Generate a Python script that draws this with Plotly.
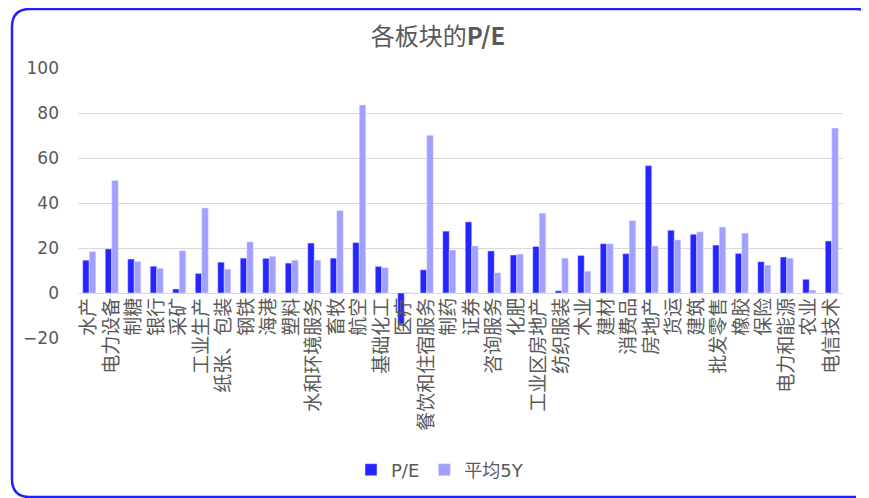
import plotly.graph_objects as go

# 板块名称
sectors = ['水产', '电力设备', '制糖', '银行', '采矿', '工业生产', '纸张、包装', '钢铁',
           '海港', '塑料', '水和环境服务', '畜牧', '航空', '基础化工', '医疗', '餐饮和住宿服务',
           '制药', '证券', '咨询服务', '化肥', '工业区房地产', '纺织服装', '木业', '建材',
           '消费品', '房地产', '货运', '建筑', '批发零售', '橡胶', '保险', '电力和能源',
           '农业', '电信技术']

# 当前 P/E
pe_now = [14.6, 19.6, 15.1, 11.9, 1.8, 8.7, 13.7, 15.5,
          15.4, 13.3, 22.2, 15.5, 22.4, 11.8, -13.8, 10.3,
          27.5, 31.6, 18.7, 16.9, 20.7, 1.0, 16.7, 21.9,
          17.5, 56.6, 27.9, 26.1, 21.3, 17.6, 13.9, 16.0,
          6.1, 23.1]

# 5年平均 P/E
pe_avg5y = [18.4, 50.0, 14.0, 11.0, 18.8, 37.8, 10.6, 22.7,
            16.3, 14.6, 14.6, 36.6, 83.6, 11.3, 0.3, 70.1,
            19.1, 20.9, 9.0, 17.3, 35.5, 15.5, 9.7, 21.9,
            32.2, 20.9, 23.6, 27.2, 29.3, 26.6, 12.4, 15.5,
            1.3, 73.3]

y_ticks = [-20, 0, 20, 40, 60, 80, 100]

# страница имеет отступ body 8px, поэтому всё считаем в координатах фигуры
W, H = 869, 498
L, R, T, B = 70, 34, 60, 168  # отступы области построения в пикселях
grey = '#595959'

fig = go.Figure()
fig.add_trace(go.Bar(x=sectors, y=pe_now, name='P/E', marker_color='#2525ff',
                     marker_line=dict(color='#e6e6ff', width=0.5)))
fig.add_trace(go.Bar(x=sectors, y=pe_avg5y, name='平均5Y', marker_color='#a0a0ff',
                     marker_line=dict(color='#e6e6ff', width=0.5)))


# пиксели -> paper
def px(x):
    return (x - L) / (W - L - R)


def py(y):
    return (H - B - y) / (H - T - B)


# рамка со скруглёнными углами; справа рисуем только начало скругления
x0, y0, x1, y1, r = 4, 1, 866, 489, 18
path = (f'M {px(x1 - 4)},{py(y0 + 4)} Q {px(x1 - 10)},{py(y0)} {px(x1 - r)},{py(y0)} '
        f'L {px(x0 + r)},{py(y0)} '
        f'Q {px(x0)},{py(y0)} {px(x0)},{py(y0 + r)} L {px(x0)},{py(y1 - r)} '
        f'Q {px(x0)},{py(y1)} {px(x0 + r)},{py(y1)} L {px(x1 - r)},{py(y1)}')
fig.add_shape(type='path', path=path, xref='paper', yref='paper',
              line=dict(color='#2222ff', width=2.5), layer='above')

fig.update_layout(
    width=W, height=H,
    margin=dict(l=L, r=R, t=T, b=B, autoexpand=False),
    plot_bgcolor='white', paper_bgcolor='white',
    barmode='group', bargap=0.42, bargroupgap=0,
    title=dict(text='各板块的<b>P/E</b>', x=430 / W, xref='container', xanchor='center',
               y=1 - 29 / H, yref='container', yanchor='middle',
               font=dict(family='Noto Sans CJK SC', size=24, color=grey)),
    legend=dict(orientation='h', x=px(432), xanchor='center', y=py(462), yanchor='middle',
                itemwidth=30, tracegroupgap=0,
                font=dict(family='DejaVu Sans, Noto Sans CJK SC', size=18, color=grey)),
    font=dict(family='Noto Sans CJK SC', color=grey),
)

fig.update_xaxes(anchor='free', position=20 / 120, tickangle=-90, automargin=False,
                 tickmode='array', tickvals=sectors, ticktext=sectors,
                 tickfont=dict(family='Noto Sans CJK SC', size=19, color=grey),
                 showline=False, showgrid=False, ticks='')
fig.update_yaxes(range=[-20, 100], tickvals=y_ticks, showgrid=True, gridcolor='#d9d9d9',
                 gridwidth=1, zeroline=True, zerolinecolor='#d9d9d9', zerolinewidth=1,
                 automargin=False,
                 tickfont=dict(family='DejaVu Sans', size=17, color=grey), ticklabelstandoff=18)

fig.write_html('out.html')
